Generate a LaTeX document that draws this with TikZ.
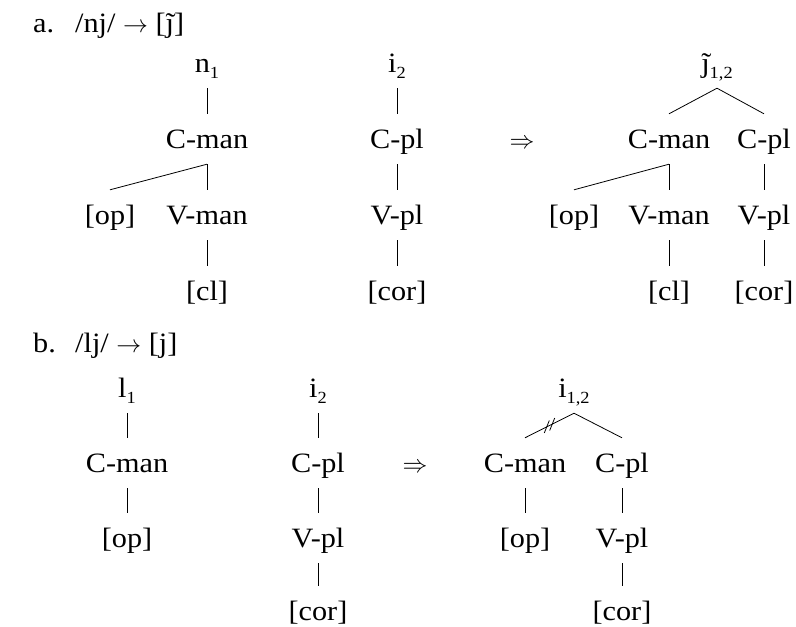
\documentclass[tikz,border=0pt]{standalone}
\usepackage{fontspec}
\setmainfont{Liberation Serif}[FakeStretch=1.08]
\newcommand\sbs[1]{\raisebox{-0.22em}{\fontsize{17}{17}\selectfont #1}}
\newcommand\jtil{\ooalign{ȷ\cr\hidewidth\kern0.06em\char"02DC\hidewidth\cr}}
\begin{document}
\begin{tikzpicture}[x=1pt,y=-1pt,
  lab/.style={anchor=base,inner sep=0pt,text height=34pt,text depth=16pt,font=\fontsize{28}{34}\selectfont},
  hdr/.style={anchor=base west,inner sep=0pt,font=\fontsize{28}{34}\selectfont},
  edge/.style={line width=0.8pt}]
\useasboundingbox (0,0) rectangle (796,627);
% ---------- a ----------
\node[hdr] (ha) at (33,32) {a.};
\node[hdr] (ta) at (75,32) {/nj/ $\rightarrow$ [\jtil]};
% left tree
\node[lab] (an) at (207,72) {n\sbs{1}};
\node[lab] (acm) at (207,148) {C-man};
\node[lab] (aop) at (110,224) {[op]};
\node[lab] (avm) at (207,224) {V-man};
\node[lab] (acl) at (207,300) {[cl]};
\draw[edge] (an.south) -- (acm.north);
\draw[edge] (acm.south) -- (aop.north);
\draw[edge] (acm.south) -- (avm.north);
\draw[edge] (avm.south) -- (acl.north);
% middle tree
\node[lab] (ai) at (397,72) {i\sbs{2}};
\node[lab] (acp) at (397,148) {C-pl};
\node[lab] (avp) at (397,224) {V-pl};
\node[lab] (acor) at (397,300) {[cor]};
\draw[edge] (ai.south) -- (acp.north);
\draw[edge] (acp.south) -- (avp.north);
\draw[edge] (avp.south) -- (acor.north);
\node[lab] (aarr) at (522,148) {$\Rightarrow$};
% right tree
\node[lab] (aj) at (717,72) {\jtil\sbs{1,2}};
\node[lab] (rcm) at (669,148) {C-man};
\node[lab] (rcp) at (764,148) {C-pl};
\node[lab] (rop) at (574,224) {[op]};
\node[lab] (rvm) at (669,224) {V-man};
\node[lab] (rvp) at (764,224) {V-pl};
\node[lab] (rcl) at (669,300) {[cl]};
\node[lab] (rcor) at (764,300) {[cor]};
\draw[edge] (aj.south) -- (rcm.north);
\draw[edge] (aj.south) -- (rcp.north);
\draw[edge] (rcm.south) -- (rop.north);
\draw[edge] (rcm.south) -- (rvm.north);
\draw[edge] (rcp.south) -- (rvp.north);
\draw[edge] (rvm.south) -- (rcl.north);
\draw[edge] (rvp.south) -- (rcor.north);
% ---------- b ----------
\node[hdr] (hb) at (33,352) {b.};
\node[hdr] (tb) at (75,352) {/lj/ $\rightarrow$ [j]};
% left tree
\node[lab] (bl) at (127,397) {l\sbs{1}};
\node[lab] (bcm) at (127,472) {C-man};
\node[lab] (bop) at (127,547) {[op]};
\draw[edge] (bl.south) -- (bcm.north);
\draw[edge] (bcm.south) -- (bop.north);
% middle tree
\node[lab] (bi) at (318,397) {i\sbs{2}};
\node[lab] (bcp) at (318,472) {C-pl};
\node[lab] (bvp) at (318,547) {V-pl};
\node[lab] (bcor) at (318,620) {[cor]};
\draw[edge] (bi.south) -- (bcp.north);
\draw[edge] (bcp.south) -- (bvp.north);
\draw[edge] (bvp.south) -- (bcor.north);
\node[lab] (barr) at (415,472) {$\Rightarrow$};
% right tree
\node[lab] (bii) at (574,397) {i\sbs{1,2}};
\node[lab] (scm) at (525,472) {C-man};
\node[lab] (scp) at (622,472) {C-pl};
\node[lab] (sop) at (525,547) {[op]};
\node[lab] (svp) at (622,547) {V-pl};
\node[lab] (scor) at (622,620) {[cor]};
\draw[edge] (bii.south) -- coordinate[pos=0.5] (hm) (scm.north);
\draw[edge] (bii.south) -- (scp.north);
\draw[edge] (scm.south) -- (sop.north);
\draw[edge] (scp.south) -- (svp.north);
\draw[edge] (svp.south) -- (scor.north);
\draw[edge,shift={(hm)}] (-5.2,7.5) -- (-0.2,-5) (0.2,5) -- (5.2,-7.5);
\end{tikzpicture}
\end{document}
